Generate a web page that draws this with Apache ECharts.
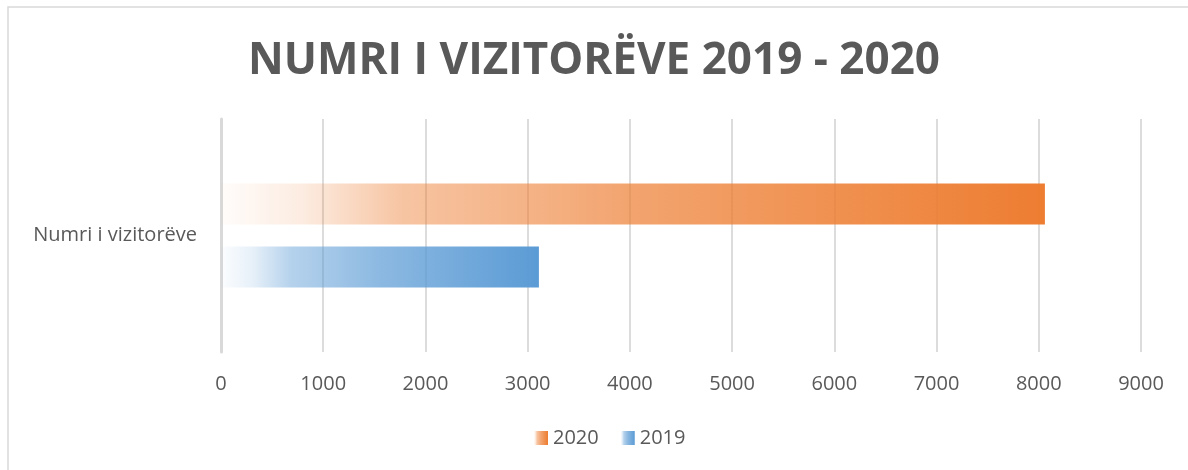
<!DOCTYPE html>
<html>
<head>
<meta charset="utf-8">
<script src="https://cdn.jsdelivr.net/npm/echarts@6/dist/echarts.min.js"></script>
<style>
  html, body { margin: 0; padding: 0; background: #fff; }
  #main { width: 1188px; height: 470px; }
</style>
</head>
<body>
<div id="main"></div>
<script>
var categories = ['Numri i vizitorëve'];
var seriesNames = ['2020', '2019'];
var values2020 = [8060];
var values2019 = [3110];
var xTicks = [0, 1000, 2000, 3000, 4000, 5000, 6000, 7000, 8000, 9000];

var textColor = '#595959';
var fontFam = '"Open Sans", sans-serif';

function fade(r, g, b) {
    return new echarts.graphic.LinearGradient(0, 0, 1, 0, [
        { offset: 0, color: 'rgba(' + r + ',' + g + ',' + b + ',0.02)' },
        { offset: 0.1, color: 'rgba(' + r + ',' + g + ',' + b + ',0.15)' },
        { offset: 0.22, color: 'rgba(' + r + ',' + g + ',' + b + ',0.45)' },
        { offset: 0.5, color: 'rgba(' + r + ',' + g + ',' + b + ',0.7)' },
        { offset: 1, color: 'rgba(' + r + ',' + g + ',' + b + ',1)' }
    ]);
}

var myChart = echarts.init(document.getElementById('main'));

var option = {
    backgroundColor: '#fff',
    animation: false,
    graphic: [{
        type: 'rect',
        shape: { x: 8, y: 7, width: 1200, height: 480 },
        style: { fill: 'none', stroke: '#d9d9d9', lineWidth: 1.5 },
        silent: true
    }],
    title: {
        text: 'NUMRI I VIZITORËVE 2019 - 2020',
        left: 'center',
        top: 34,
        textStyle: { color: textColor, fontSize: 44, fontWeight: 'bold', fontFamily: fontFam }
    },
    legend: {
        data: seriesNames,
        bottom: 17,
        left: 529,
        icon: 'rect',
        itemWidth: 14,
        itemHeight: 14,
        itemGap: 22,
        itemTextGap: 6,
        textStyle: { color: textColor, fontSize: 20, fontFamily: fontFam }
    },
    grid: { left: 221, right: 47, top: 119, bottom: 118, containLabel: false },
    xAxis: {
        type: 'value',
        min: 0,
        max: 9000,
        interval: 1000,
        axisLine: { show: false },
        axisTick: { show: false },
        splitLine: { lineStyle: { color: '#d0d0d0', width: 1.5 } },
        axisLabel: {
            color: textColor, fontSize: 20, fontFamily: fontFam, margin: 22,
            formatter: function (v) { return xTicks.indexOf(v) >= 0 ? String(v) : ''; }
        }
    },
    yAxis: {
        type: 'category',
        data: categories,
        axisLine: { show: true, lineStyle: { color: '#d9d9d9', width: 3 } },
        axisTick: { show: false },
        axisLabel: { color: textColor, fontSize: 20, fontFamily: fontFam, margin: 24 }
    },
    series: [
        {
            name: '2020',
            type: 'bar',
            data: values2020,
            barWidth: 41,
            barGap: '54%',
            itemStyle: { color: fade(237, 125, 49) }
        },
        {
            name: '2019',
            type: 'bar',
            data: values2019,
            barWidth: 41,
            barGap: '54%',
            itemStyle: { color: fade(91, 155, 213) }
        }
    ]
};
myChart.setOption(option);
</script>
</body>
</html>
